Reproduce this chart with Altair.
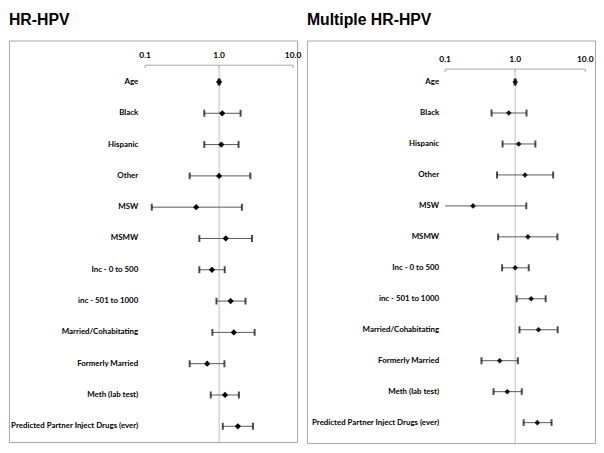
import altair as alt
import pandas as pd

labels = ["Age", "Black", "Hispanic", "Other", "MSW", "MSMW", "Inc - 0 to 500",
          "inc - 501 to 1000", "Married/Cohabitating", "Formerly Married",
          "Meth (lab test)", "Predicted Partner Inject Drugs (ever)"]

hr_or = [1.00, 1.10, 1.07, 1.00, 0.49, 1.23, 0.80, 1.43, 1.58, 0.69, 1.20, 1.79]
hr_lo = [0.98, 0.63, 0.63, 0.40, 0.123, 0.54, 0.54, 0.92, 0.81, 0.40, 0.77, 1.12]
hr_hi = [1.02, 1.95, 1.83, 2.64, 2.03, 2.78, 1.19, 2.27, 3.02, 1.18, 1.85, 2.87]

mult_or = [1.00, 0.81, 1.12, 1.38, 0.25, 1.52, 1.00, 1.69, 2.15, 0.60, 0.77, 2.07]
mult_lo = [0.98, 0.46, 0.66, 0.55, 0.08, 0.57, 0.65, 1.05, 1.15, 0.33, 0.49, 1.32]
mult_hi = [1.02, 1.45, 1.94, 3.48, 1.44, 4.00, 1.56, 2.72, 4.04, 1.09, 1.24, 3.30]

tick_values = [0.1, 1.0, 10.0]
tick_labels = ["0.1", "1.0", "10.0"]

LABEL_FONT = "Lato"


def panel(title, ors, los, his, domain, pad, align, width, height, axis_y, label_x,
          pt_color, pt_size):
    axis_min = tick_values[0]
    df = pd.DataFrame({
        "label": labels,
        "or": ors,
        "lo": los,
        "hi": his,
    })
    df["lo_line"] = df["lo"].clip(lower=axis_min)
    caps_lo = df[df["lo"] >= axis_min]
    xs = alt.Scale(type="log", domain=domain, nice=False)
    ys = alt.Scale(type="point", padding=pad, align=align)
    y = alt.Y("label:N", sort=labels, scale=ys, axis=None)

    tdf = pd.DataFrame({"t": tick_values, "txt": tick_labels})
    adf = pd.DataFrame({"a": [tick_values[0]], "b": [tick_values[-1]]})
    refdf = pd.DataFrame({"r": [1.0]})

    ticks = alt.Chart(tdf).mark_rule(color="#a6a6a6", strokeWidth=1, clip=True).encode(
        x=alt.X("t:Q", scale=xs, axis=None),
        y=alt.value(axis_y), y2=alt.value(axis_y + 3))
    tick_text = alt.Chart(tdf).mark_text(
        font=LABEL_FONT, fontSize=8.5, fontWeight="bold", color="#000000",
        align="center", baseline="alphabetic").encode(
        x=alt.X("t:Q", scale=xs, axis=None), y=alt.value(axis_y - 7), text="txt:N")
    axline = alt.Chart(adf).mark_rule(color="#a6a6a6", strokeWidth=1, clip=True).encode(
        x=alt.X("a:Q", scale=xs, axis=None), x2="b:Q", y=alt.value(axis_y))
    ref = alt.Chart(refdf).mark_rule(color="#bfbfbf", strokeWidth=1, clip=True).encode(
        x=alt.X("r:Q", scale=xs, axis=None), y=alt.value(axis_y), y2=alt.value(height))
    row_text = alt.Chart(df).mark_text(
        font=LABEL_FONT, fontSize=8.0, fontWeight="bold", color="#000000",
        align="right", baseline="middle", clip=True).encode(
        x=alt.value(label_x), y=y, text="label:N")
    lines = alt.Chart(df).mark_rule(color="#595959", strokeWidth=1, clip=True).encode(
        x=alt.X("lo_line:Q", scale=xs, axis=None), x2="hi:Q", y=y)
    cap_lo = alt.Chart(caps_lo).mark_tick(color="#000000", thickness=2, size=7,
                                          clip=True).encode(
        x=alt.X("lo:Q", scale=xs, axis=None), y=y)
    cap_hi = alt.Chart(df).mark_tick(color="#000000", thickness=2, size=7,
                                     clip=True).encode(
        x=alt.X("hi:Q", scale=xs, axis=None), y=y)
    pts = alt.Chart(df).mark_point(shape="diamond", filled=True, color=pt_color,
                                   size=pt_size, opacity=1, clip=True).encode(
        x=alt.X("or:Q", scale=xs, axis=None), y=y)

    return alt.layer(ticks, tick_text, axline, ref, row_text, lines, cap_lo, cap_hi,
                     pts).properties(
        width=width, height=height,
        title=alt.TitleParams(title, anchor="start", font="Liberation Sans",
                              fontSize=16, fontWeight="bold", color="#000000",
                              offset=13))


left = panel("HR-HPV", hr_or, hr_lo, hr_hi,
             [10 ** (-213 / 75), 10 ** (79 / 75)], 0.914, 0.724, 292, 407, 25, 131,
             "#000000", 40)
right = panel("Multiple HR-HPV", mult_or, mult_lo, mult_hi,
              [10 ** (-214 / 72), 10 ** (82 / 72)], 1.08, 0.67, 292, 408, 29, 134,
              "#0a1628", 32)

chart = alt.hconcat(left, right, spacing=4).properties(padding=0).configure_view(
    stroke="#a6a6a6", strokeWidth=1)

chart.save("out.html", embed_options={"renderer": "svg", "actions": False})
